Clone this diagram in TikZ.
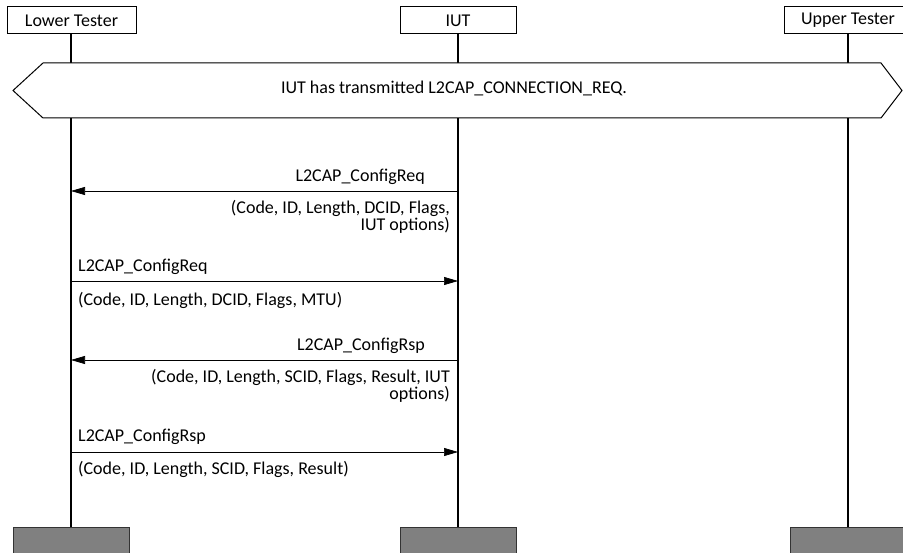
\documentclass[tikz,border=0pt]{standalone}
\usepackage{fontspec}
\setmainfont{Carlito}
\usetikzlibrary{arrows.meta}
\begin{document}
\begin{tikzpicture}[x=1pt,y=-1pt,
  font=\fontsize{18}{17.5}\selectfont,
  hdr/.style={draw=black,line width=1pt,fill=white,minimum height=27pt,inner sep=0pt},
  foot/.style={draw=black!80,line width=1pt,fill=black!50,minimum height=34pt,minimum width=116pt,inner sep=0pt},
  life/.style={line width=1.3pt},
  msg/.style={line width=0.7pt,-{Triangle[length=14pt,width=8pt]}},
  lbl/.style={inner sep=0pt},
  par/.style={inner sep=0pt,align=right}]
\clip (0,0) rectangle (903,553);
% headers
\node[hdr,minimum width=129pt] (lt) at (71.5,20.5) {Lower Tester};
\node[hdr,minimum width=116pt] (iut) at (458,20.5) {IUT};
\node[hdr,minimum width=128pt] (ut) at (848,20.5) {Upper Tester};
% footers
\node[foot,anchor=north] (ltf) at (71,527) {};
\node[foot,anchor=north] (iutf) at (458,527) {};
\node[foot,anchor=north] (utf) at (848,527) {};
% lifelines
\draw[life] (71,34) -- (ltf.north);
\draw[life] (iut.south) -- (iutf.north);
\draw[life] (848,34) -- (utf.north);
% hexagon condition
\draw[line width=1pt,fill=white] (13,90.5) -- (43,63) -- (881,63) -- (902,90.5) -- (881,118) -- (43,118) -- cycle;
\node[lbl] (cond) at (454,88) {IUT has transmitted L2CAP\_CONNECTION\_REQ.};
% message coordinates
\coordinate (a1) at (458,191); \coordinate (b1) at (71,191);
\coordinate (a2) at (71,281);  \coordinate (b2) at (458,281);
\coordinate (a3) at (458,360); \coordinate (b3) at (71,360);
\coordinate (a4) at (71,452);  \coordinate (b4) at (458,452);
\draw[msg] (a1) -- (b1);
\draw[msg] (a2) -- (b2);
\draw[msg] (a3) -- (b3);
\draw[msg] (a4) -- (b4);
% labels
\node[lbl,anchor=east] (l1) at (425,177) {L2CAP\_ConfigReq};
\node[par,anchor=east] (p1) at (450,217) {(Code, ID, Length, DCID, Flags,\\IUT options)};
\node[lbl,anchor=west] (l2) at (78,267) {L2CAP\_ConfigReq};
\node[lbl,anchor=west] (p2) at (78,300) {(Code, ID, Length, DCID, Flags, MTU)};
\node[lbl,anchor=east] (l3) at (425,346) {L2CAP\_ConfigRsp};
\node[par,anchor=east] (p3) at (450,386) {(Code, ID, Length, SCID, Flags, Result, IUT\\options)};
\node[lbl,anchor=west] (l4) at (78,437) {L2CAP\_ConfigRsp};
\node[lbl,anchor=west] (p4) at (78,469) {(Code, ID, Length, SCID, Flags, Result)};
\end{tikzpicture}
\end{document}
